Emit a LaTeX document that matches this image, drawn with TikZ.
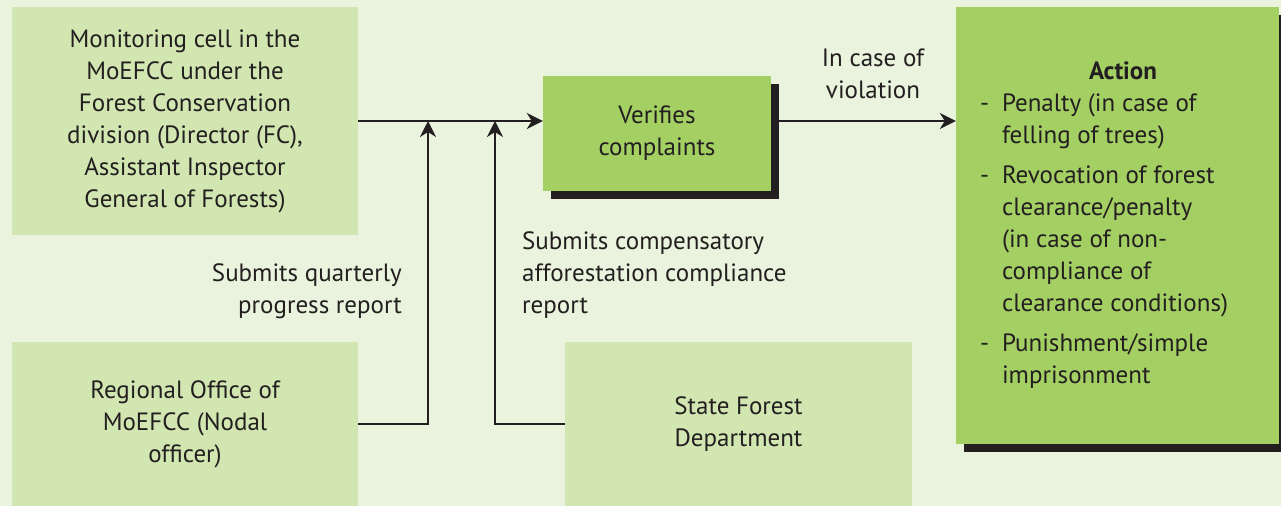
\documentclass[tikz,border=0pt]{standalone}
\usepackage{fontspec}
\setmainfont{PT Sans}
\usetikzlibrary{arrows.meta,shadows}
\definecolor{bgc}{HTML}{EAF3DD}
\definecolor{lightc}{HTML}{D2E6B1}
\definecolor{darkc}{HTML}{A3CF63}
\definecolor{inkc}{HTML}{231F20}

\begin{document}
\begin{tikzpicture}[x=1pt,y=-1pt,
    every node/.style={font=\fontsize{25}{32}\selectfont,text=inkc,inner sep=0pt},
    palebox/.style={fill=lightc,align=center},
    darkbox/.style={fill=darkc,align=center,drop shadow={shadow xshift=8pt,shadow yshift=-8pt,fill=inkc,opacity=1}},
    arr/.style={draw=inkc,line width=2pt,-{Stealth[length=16pt,width=16pt,inset=5pt]}}]
    \useasboundingbox[fill=bgc] (0,0) rectangle (1281,506);

    \node[palebox,minimum width=346,minimum height=228] (mon) at (185,121) {Monitoring cell in the\\MoEFCC under the\\Forest Conservation\\division (Director (FC),\\Assistant Inspector\\General of Forests)};
    \node[palebox,minimum width=346,minimum height=164] (reg) at (185,424) {Regional Office of\\MoEFCC (Nodal\\officer)};
    \node[palebox,minimum width=347,minimum height=164] (sfd) at (738.5,424) {\raisebox{4pt}{\begin{tabular}{@{}c@{}}State Forest\\Department\end{tabular}}};
    \node[darkbox,minimum width=228,minimum height=115] (ver) at (657,133.5) {Verifies\\complaints};
    \node[darkbox,minimum width=323,minimum height=437] (act) at (1117.5,225.5) {\raisebox{3pt}{\begin{tabular}{@{}l@{\hspace{13pt}}l@{}}
        & \multicolumn{1}{c}{\hspace{16pt}\bfseries Action}\\
        - & Penalty (in case of\\
          & felling of trees)\\[8pt]
        - & Revocation of forest\\
          & clearance/penalty\\
          & (in case of non-\\
          & compliance of\\
          & clearance conditions)\\[8pt]
        - & Punishment/simple\\
          & imprisonment
        \end{tabular}}\hspace{27pt}};

    \node[align=center] (viol) at (873,74) {In case of\\violation};
    \node[align=right,anchor=east] (qpr) at (402,291) {Submits quarterly\\progress report};
    \node[align=left,anchor=west] (car) at (522,275) {Submits compensatory\\afforestation compliance\\report};

    \coordinate (j1) at (428,121);
    \coordinate (j2) at (495,121);
    \draw[arr] (mon.east) -- (mon.east -| ver.west);
    \draw[arr] ([xshift=8pt]ver.east |- mon.east) -- (mon.east -| act.west);
    \draw[arr] (reg.east) -| (j1);
    \draw[arr] (sfd.west) -| (j2);
\end{tikzpicture}
\end{document}
